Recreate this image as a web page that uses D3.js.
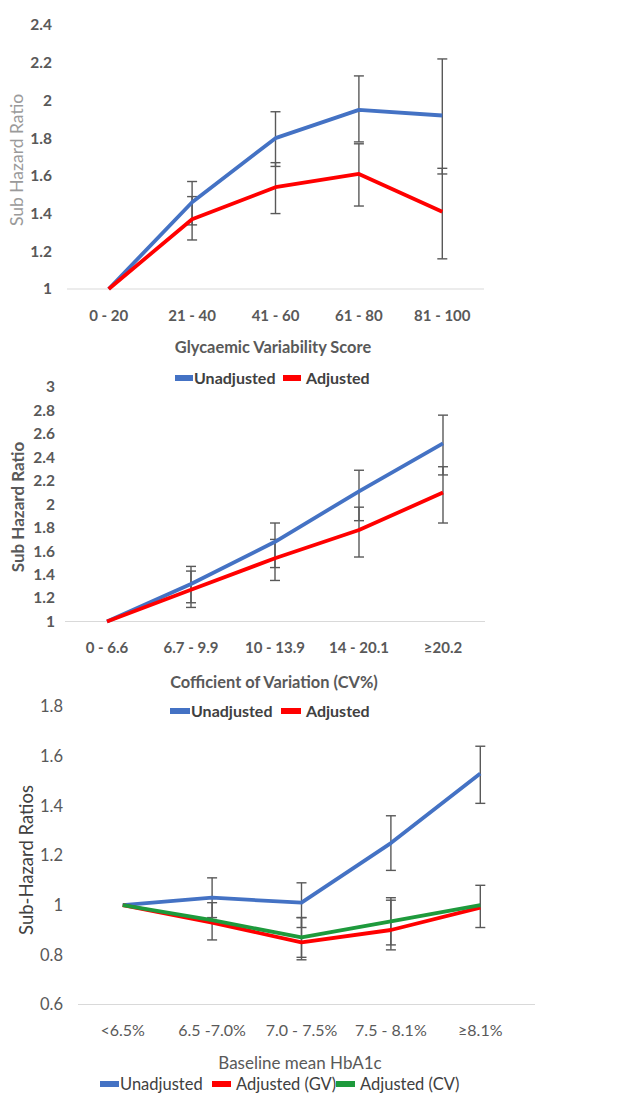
<!DOCTYPE html>
<html>
<head>
<meta charset="utf-8">
<script src="https://cdn.jsdelivr.net/npm/d3@7"></script>
<style>
  body { margin: 0; background: #fff; }
  svg { display: block; font-family: Lato, "Open Sans", sans-serif; }
</style>
</head>
<body>
<svg id="chart" width="635" height="1095"></svg>
<script>
// ---- panel 1: glycaemic variability score
var gvsCategories = ["0 - 20", "21 - 40", "41 - 60", "61 - 80", "81 - 100"];
var gvsUnadj = [1, 1.46, 1.80, 1.95, 1.92];
var gvsUnadjLo = [null, 1.34, 1.65, 1.78, 1.61];
var gvsUnadjHi = [null, 1.57, 1.94, 2.13, 2.22];
var gvsAdj = [1, 1.37, 1.54, 1.61, 1.41];
var gvsAdjLo = [null, 1.26, 1.40, 1.44, 1.16];
var gvsAdjHi = [null, 1.49, 1.67, 1.77, 1.64];
var gvsTicks = [1, 1.2, 1.4, 1.6, 1.8, 2, 2.2, 2.4];

// ---- panel 2: coefficient of variation
var cvCategories = ["0 - 6.6", "6.7 - 9.9", "10 - 13.9", "14 - 20.1", "\u226520.2"];
var cvUnadj = [1, 1.32, 1.68, 2.11, 2.52];
var cvUnadjLo = [null, 1.16, 1.46, 1.86, 2.25];
var cvUnadjHi = [null, 1.47, 1.84, 2.29, 2.76];
var cvAdj = [1, 1.27, 1.54, 1.78, 2.10];
var cvAdjLo = [null, 1.12, 1.35, 1.55, 1.84];
var cvAdjHi = [null, 1.43, 1.70, 1.975, 2.32];
var cvTicks = [1, 1.2, 1.4, 1.6, 1.8, 2, 2.2, 2.4, 2.6, 2.8, 3];

// ---- panel 3: baseline mean HbA1c
var hbCategories = ["<6.5%", "6.5 -7.0%", "7.0 - 7.5%", "7.5 - 8.1%", "\u22658.1%"];
var hbUnadj = [1, 1.03, 1.01, 1.25, 1.53];
var hbUnadjLo = [null, 0.95, 0.91, 1.14, 1.41];
var hbUnadjHi = [null, 1.11, 1.09, 1.36, 1.64];
var hbAdjGv = [1, 0.93, 0.85, 0.90, 0.99];
var hbAdjGvLo = [null, 0.86, 0.78, 0.82, null];
var hbAdjGvHi = [null, 1.01, 0.95, 1.02, null];
var hbAdjCv = [1, 0.94, 0.87, 0.935, 1.00];
var hbAdjCvLo = [null, null, 0.79, 0.84, 0.91];
var hbAdjCvHi = [null, null, 0.95, 1.03, 1.08];
var hbTicks = [0.6, 0.8, 1, 1.2, 1.4, 1.6, 1.8];

var BLUE = "#4472c4", RED = "#ff0000", GREEN = "#1e9a3c";

var svg = d3.select("#chart");

function drawPanel(cfg) {
    var g = svg.append("g");

    var x = d3.scaleBand().domain(cfg.categories).range(cfg.xRange);
    var y = d3.scaleLinear().domain(cfg.yDomain).range(cfg.yRange);
    var cx = function(i) { return x(cfg.categories[i]) + x.bandwidth() / 2; };
    var weight = cfg.bold ? "bold" : "normal";

    // baseline
    g.append("line")
        .attr("x1", cfg.xRange[0]).attr("x2", cfg.baseEnd || cfg.xRange[1])
        .attr("y1", y(cfg.yDomain[0])).attr("y2", y(cfg.yDomain[0]))
        .attr("stroke", "#d9d9d9").attr("stroke-width", 1.2);

    // y tick labels
    g.selectAll("text.ytick")
        .data(cfg.ticks)
        .enter().append("text")
        .attr("class", "ytick")
        .attr("x", cfg.tickX)
        .attr("y", function(d) { return y(d); })
        .attr("dy", "0.35em")
        .attr("text-anchor", "end")
        .attr("font-size", cfg.tickSize)
        .attr("font-weight", weight)
        .attr("fill", "#595959")
        .text(function(d) { return String(+d.toFixed(1)); });

    // category labels
    g.selectAll("text.xcat")
        .data(cfg.categories)
        .enter().append("text")
        .attr("class", "xcat")
        .attr("x", function(d, i) { return cx(i); })
        .attr("y", cfg.catY)
        .attr("text-anchor", "middle")
        .attr("font-size", cfg.catSize)
        .attr("font-weight", weight)
        .attr("fill", "#595959")
        .text(function(d) { return d; });

    // axis titles
    g.append("text")
        .attr("x", cfg.titleX[0]).attr("y", cfg.titleX[1])
        .attr("text-anchor", "middle")
        .attr("font-size", cfg.titleSize)
        .attr("font-weight", weight)
        .attr("fill", "#595959")
        .text(cfg.xTitle);

    g.append("text")
        .attr("transform", "translate(" + cfg.titleY[0] + "," + cfg.titleY[1] + ") rotate(-90)")
        .attr("text-anchor", "middle")
        .attr("dy", "0.35em")
        .attr("font-size", cfg.yTitleSize)
        .attr("font-weight", cfg.yTitleBold ? "bold" : "normal")
        .attr("fill", cfg.yTitleColor)
        .text(cfg.yTitle);

    // error bars (under the lines)
    cfg.series.forEach(function(s) {
        s.lo.forEach(function(lo, i) {
            var hi = s.hi[i];
            if (lo == null || hi == null) return;
            var px = cx(i);
            var eb = g.append("g").attr("stroke", "#595959").attr("stroke-width", 1.4);
            eb.append("line").attr("x1", px).attr("x2", px).attr("y1", y(lo)).attr("y2", y(hi));
            eb.append("line").attr("x1", px - 5).attr("x2", px + 5).attr("y1", y(lo)).attr("y2", y(lo));
            eb.append("line").attr("x1", px - 5).attr("x2", px + 5).attr("y1", y(hi)).attr("y2", y(hi));
        });
    });

    // lines
    var line = d3.line()
        .x(function(d, i) { return cx(i); })
        .y(function(d) { return y(d); });

    cfg.series.forEach(function(s) {
        g.append("path")
            .datum(s.values)
            .attr("d", line)
            .attr("fill", "none")
            .attr("stroke", s.color)
            .attr("stroke-width", 3.8)
            .attr("stroke-linejoin", "round");
    });

    // legend
    cfg.series.forEach(function(s, k) {
        var sx = cfg.legendX[k];
        g.append("rect")
            .attr("x", sx).attr("y", cfg.legendY - 3)
            .attr("width", cfg.swatchW).attr("height", 6)
            .attr("fill", s.color);
        g.append("text")
            .attr("x", sx + cfg.swatchW + (k == 0 ? 1 : 5)).attr("y", cfg.legendY)
            .attr("dy", "0.35em")
            .attr("font-size", cfg.legendSize)
            .attr("font-weight", weight)
            .attr("fill", "#404040")
            .text(s.name);
    });
}

drawPanel({
    categories: gvsCategories,
    xRange: [67, 484],
    yDomain: [1, 2.4], yRange: [289, 25],
    ticks: gvsTicks, tickX: 52, tickSize: 15.5, catSize: 15, bold: true,
    catY: 321,
    xTitle: "Glycaemic Variability Score", titleX: [273, 353], titleSize: 16.4,
    yTitle: "Sub Hazard Ratio", titleY: [17, 160], yTitleSize: 17.5, yTitleColor: "#9a9a9a", yTitleBold: false,
    legendX: [175, 283], legendY: 378, swatchW: 18, legendSize: 16,
    series: [
        { name: "Unadjusted", color: BLUE, values: gvsUnadj, lo: gvsUnadjLo, hi: gvsUnadjHi },
        { name: "Adjusted", color: RED, values: gvsAdj, lo: gvsAdjLo, hi: gvsAdjHi }
    ]
});

drawPanel({
    categories: cvCategories,
    xRange: [65, 485],
    yDomain: [1, 3], yRange: [621.5, 387],
    ticks: cvTicks, tickX: 55, tickSize: 15.5, catSize: 15, bold: true,
    catY: 653,
    xTitle: "Cofficient of Variation (CV%)", titleX: [274, 688], titleSize: 16.4,
    yTitle: "Sub Hazard Ratio", titleY: [18, 507], yTitleSize: 17, yTitleColor: "#595959", yTitleBold: true,
    legendX: [170, 281], legendY: 711, swatchW: 20, legendSize: 16,
    series: [
        { name: "Unadjusted", color: BLUE, values: cvUnadj, lo: cvUnadjLo, hi: cvUnadjHi },
        { name: "Adjusted", color: RED, values: cvAdj, lo: cvAdjLo, hi: cvAdjHi }
    ]
});

drawPanel({
    categories: hbCategories,
    xRange: [78, 525], baseEnd: 535,
    yDomain: [0.6, 1.8], yRange: [1004.5, 706.5],
    ticks: hbTicks, tickX: 63, tickSize: 16.5, catSize: 16, bold: false,
    catY: 1036,
    xTitle: "Baseline mean HbA1c", titleX: [300, 1069], titleSize: 17,
    yTitle: "Sub-Hazard Ratios", titleY: [27, 860], yTitleSize: 18.5, yTitleColor: "#404040", yTitleBold: false,
    legendX: [100, 212, 336], legendY: 1084, swatchW: 19, legendSize: 16.5,
    series: [
        { name: "Unadjusted", color: BLUE, values: hbUnadj, lo: hbUnadjLo, hi: hbUnadjHi },
        { name: "Adjusted (GV)", color: RED, values: hbAdjGv, lo: hbAdjGvLo, hi: hbAdjGvHi },
        { name: "Adjusted (CV)", color: GREEN, values: hbAdjCv, lo: hbAdjCvLo, hi: hbAdjCvHi }
    ]
});
</script>
</body>
</html>
